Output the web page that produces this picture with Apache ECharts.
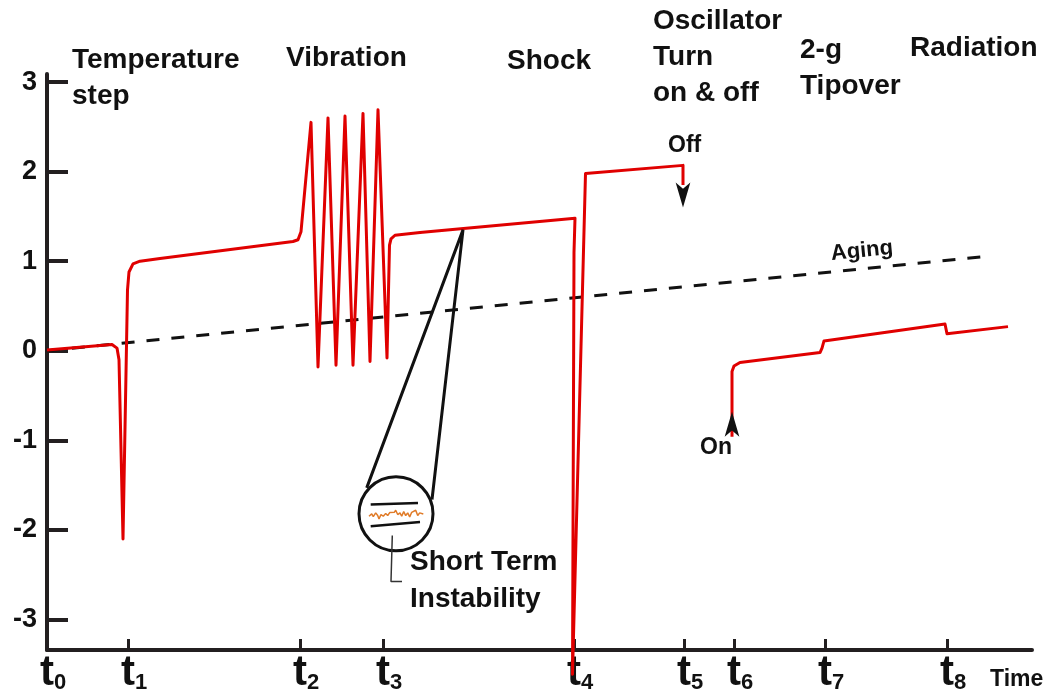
<!DOCTYPE html>
<html>
<head>
<meta charset="utf-8">
<script src="https://cdn.jsdelivr.net/npm/echarts@6/dist/echarts.min.js"></script>
<style>
  html, body { margin: 0; padding: 0; background: #fff; }
  #chart { width: 1053px; height: 694px; }
</style>
</head>
<body>
<div id="chart"></div>
<script>
// time marks t0..t8 on the x axis (arbitrary time units)
const tickX = [0, 8.1, 25.3, 33.6, 52.7, 63.7, 68.7, 77.8, 90];
const yTicks = [-3, -2, -1, 0, 1, 2, 3];

// frequency offset, t0 .. oscillator off (temperature step, vibration, shock)
const freqBefore = [
  [0, 0.01], [6.5, 0.07], [7.0, 0.03], [7.2, -0.10], [7.6, -2.10], [8.05, 0.68],
  [8.2, 0.88], [8.6, 0.97], [9.3, 1.00], [11.3, 1.03], [24.6, 1.22], [25.1, 1.24],
  [25.4, 1.33], [26.4, 2.55], [27.1, -0.18], [28.1, 2.60], [28.9, -0.16], [29.8, 2.62],
  [30.6, -0.16], [31.6, 2.65], [32.3, -0.12], [33.1, 2.69], [34.0, -0.08], [34.25, 1.18],
  [34.4, 1.25], [34.8, 1.29], [37.3, 1.32], [52.8, 1.48], [52.7, 1.10], [52.55, -3.61],
  [53.85, 1.98], [63.6, 2.07], [63.6, 1.85]
];
// frequency offset after the oscillator is turned on again (tipover, radiation)
const freqAfter = [
  [68.5, -0.96], [68.5, -0.23], [68.7, -0.17], [69.3, -0.13], [77.3, -0.02], [77.5, 0.03],
  [77.7, 0.11], [89.8, 0.30], [90.0, 0.19], [96.1, 0.27]
];
const aging = [[0, 0], [94.5, 1.06]];

// magnifier for short term instability
const zoomLines = [[31.97, -1.53], [41.6, 1.35], [38.5, -1.66]];
const zoomCenter = [[34.9, -1.82]];
const bandTop = [[32.37, -1.717], [37.1, -1.698]];
const bandBottom = [[32.37, -1.959], [37.3, -1.91]];
const noise = [
  [32.20, -1.847], [32.47, -1.821], [32.63, -1.852], [32.87, -1.809], [33.07, -1.839],
  [33.20, -1.876], [33.40, -1.828], [33.63, -1.847], [33.87, -1.815], [34.07, -1.839],
  [34.27, -1.806], [34.47, -1.828], [34.73, -1.803], [34.87, -1.780], [35.07, -1.828],
  [35.30, -1.809], [35.47, -1.847], [35.67, -1.795], [35.87, -1.839], [36.07, -1.809],
  [36.27, -1.854], [36.47, -1.803], [36.67, -1.821], [36.87, -1.780], [37.07, -1.839],
  [37.27, -1.809], [37.47, -1.795], [37.63, -1.821]
];
const leader = [[34.53, -2.062], [34.4, -2.575], [35.5, -2.575]];

const offArrow = [[63.6, 1.6]];
const onArrow = [[68.5, -0.68]];

const FONT = "'Liberation Sans', Arial, sans-serif";
const INK = '#111';
const AXIS = '#231f20';
const RED = '#e00000';

const chart = echarts.init(document.getElementById('chart'));

const txt = (text, x, y, size, align, rotation) => ({
  type: 'text',
  x: x,
  y: y,
  rotation: rotation || 0,
  style: {
    text: text,
    font: 'bold ' + size + 'px ' + FONT,
    fill: INK,
    align: align || 'left',
    verticalAlign: 'middle'
  }
});

const option = {
  animation: false,
  grid: { left: 47, right: 21, top: 74, bottom: 44 },
  xAxis: {
    type: 'value',
    min: 0,
    max: 98.5,
    splitLine: { show: false },
    axisLine: { onZero: false, lineStyle: { color: AXIS, width: 4 } },
    axisTick: {
      inside: true,
      length: 11,
      customValues: tickX.slice(1),
      lineStyle: { color: AXIS, width: 3 }
    },
    axisLabel: {
      customValues: tickX,
      margin: 2,
      formatter: function (v) {
        const i = tickX.indexOf(v);
        return '{h|' + i + '}{t|t}{s|' + i + '}';
      },
      rich: {
        t: { fontFamily: FONT, fontWeight: 'bold', fontSize: 42, color: INK, verticalAlign: 'bottom' },
        s: { fontFamily: FONT, fontWeight: 'bold', fontSize: 22, color: INK, verticalAlign: 'bottom' },
        h: { fontFamily: FONT, fontWeight: 'bold', fontSize: 22, color: 'rgba(0,0,0,0)', verticalAlign: 'bottom' }
      }
    }
  },
  yAxis: {
    type: 'value',
    min: -3.34,
    max: 3.09,
    splitLine: { show: false },
    axisLine: { show: true, onZero: false, lineStyle: { color: AXIS, width: 4 } },
    axisTick: {
      show: true,
      inside: true,
      length: 21,
      customValues: yTicks,
      lineStyle: { color: AXIS, width: 4 }
    },
    axisLabel: {
      customValues: yTicks,
      margin: 10,
      fontFamily: FONT,
      fontWeight: 'bold',
      fontSize: 27,
      color: INK
    }
  },
  series: [
    {
      type: 'line', data: aging, showSymbol: false, z: 2,
      lineStyle: { color: '#111', width: 3, type: [13, 12] }
    },
    {
      type: 'line', data: freqBefore, showSymbol: false, clip: false, z: 3,
      lineStyle: { color: RED, width: 3, join: 'round' }
    },
    {
      type: 'line', data: freqAfter, showSymbol: false, z: 3,
      lineStyle: { color: RED, width: 3, join: 'round' }
    },
    {
      type: 'line', data: zoomLines, showSymbol: false, z: 4,
      lineStyle: { color: '#111', width: 3 }
    },
    {
      type: 'scatter', data: zoomCenter, symbol: 'circle', symbolSize: 74, z: 5,
      itemStyle: { color: '#fff', borderColor: '#111', borderWidth: 3, opacity: 1 }
    },
    {
      type: 'line', data: bandTop, showSymbol: false, z: 6,
      lineStyle: { color: '#111', width: 2.5 }
    },
    {
      type: 'line', data: bandBottom, showSymbol: false, z: 6,
      lineStyle: { color: '#111', width: 2.5 }
    },
    {
      type: 'line', data: noise, showSymbol: false, z: 6,
      lineStyle: { color: '#e07b28', width: 1.5 }
    },
    {
      type: 'line', data: leader, showSymbol: false, z: 6,
      lineStyle: { color: '#333', width: 1.5 }
    },
    {
      type: 'scatter', data: offArrow, symbol: 'arrow', symbolSize: [11, 25], symbolRotate: 180, z: 7,
      itemStyle: { color: '#111', opacity: 1 }
    },
    {
      type: 'scatter', data: onArrow, symbol: 'arrow', symbolSize: [11, 25], z: 7,
      itemStyle: { color: '#111', opacity: 1 }
    }
  ],
  graphic: [
    txt('Temperature', 72, 60, 28),
    txt('step', 72, 96, 28),
    txt('Vibration', 286, 58, 28),
    txt('Shock', 507, 61, 28),
    txt('Oscillator', 653, 21, 28),
    txt('Turn', 653, 57, 28),
    txt('on & off', 653, 93, 28),
    txt('2-g', 800, 50, 28),
    txt('Tipover', 800, 86, 28),
    txt('Radiation', 910, 48, 28),
    txt('Off', 668, 146, 23),
    txt('On', 700, 448, 23),
    txt('Aging', 862, 251, 22, 'center', 0.098),
    txt('Short Term', 410, 562, 28),
    txt('Instability', 410, 599, 28),
    txt('Time', 990, 680, 23)
  ]
};

chart.setOption(option);
</script>
</body>
</html>
